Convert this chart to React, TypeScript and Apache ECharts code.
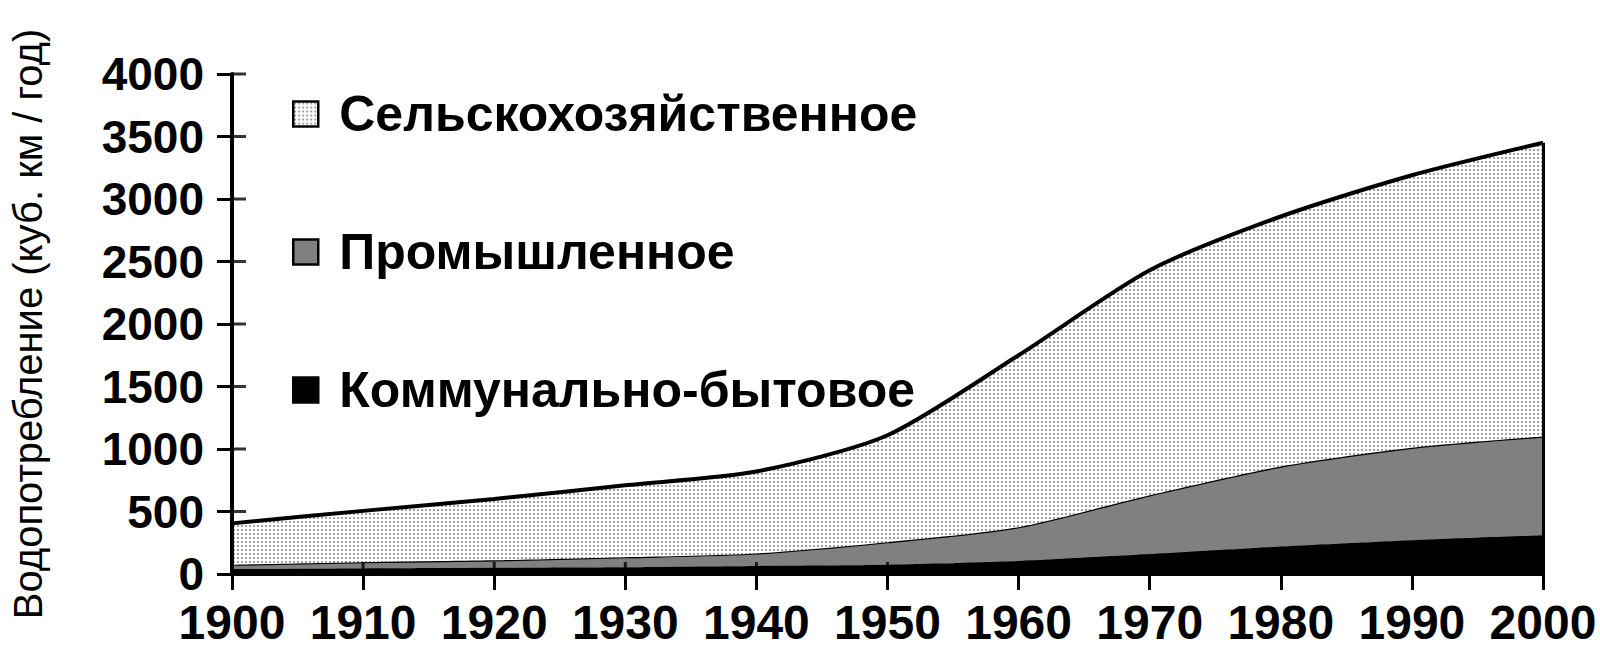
import React, { useEffect, useRef } from 'react';
import * as echarts from 'echarts';

const years = ['1900', '1910', '1920', '1930', '1940', '1950', '1960', '1970', '1980', '1990', '2000'];
const communal = [40, 45, 50, 55, 65, 75, 105, 160, 220, 270, 310];
const industrial = [35, 50, 60, 80, 100, 180, 270, 470, 640, 740, 790];
const agricultural = [330, 410, 490, 575, 655, 855, 1375, 1800, 2000, 2180, 2350];
const yTicks = [0, 500, 1000, 1500, 2000, 2500, 3000, 3500, 4000];

const seriesNames = ['Коммунально-бытовое', 'Промышленное', 'Сельскохозяйственное'];
const yTitle = 'Водопотребление (куб. км / год)';

const FONT = '"Liberation Sans", Arial, sans-serif';

const W = 1600;
const H = 666;

export default function App() {
  const ref = useRef<HTMLDivElement>(null);
  useEffect(() => {
    document.body.style.margin = '0';
    const chart = echarts.init(ref.current!, null, { renderer: 'svg' });
    const tile = document.createElement('canvas');
    tile.width = 4;
    tile.height = 4;
    const ctx = tile.getContext('2d')!;
    ctx.fillStyle = '#ffffff';
    ctx.fillRect(0, 0, 4, 4);
    ctx.fillStyle = '#a0a0a0';
    ctx.fillRect(1, 1, 2, 2);
    const dots: any = { image: tile, repeat: 'repeat', imageWidth: 4, imageHeight: 4 };

    const last = years.length - 1;
    const total = communal[last] + industrial[last] + agricultural[last];

    const tickStyle = { color: '#000', width: 3 };

    chart.setOption({
      animation: false,
      backgroundColor: '#fff',
      grid: {
        left: 232,
        right: 57,
        top: 74,
        bottom: 92,
        containLabel: false,
        outerBoundsMode: 'none',
      },
      legend: {
        data: [seriesNames[2], seriesNames[1], seriesNames[0]],
        orient: 'vertical',
        left: 287,
        top: 84,
        itemWidth: 25,
        itemHeight: 25,
        itemGap: 88,
        icon: 'rect',
        itemStyle: { borderColor: '#000', borderWidth: 2.5 },
        textStyle: {
          fontSize: 50,
          fontWeight: 'bold',
          color: '#000',
          fontFamily: FONT,
          lineHeight: 50,
          padding: [0, 0, 0, 16],
        },
      },
      xAxis: {
        type: 'category',
        data: years,
        boundaryGap: false,
        position: 'bottom',
        z: 10,
        axisLine: { show: true, lineStyle: { color: '#000', width: 4 } },
        axisTick: { show: true, length: 16, interval: 0, lineStyle: tickStyle },
        axisLabel: { color: '#000', fontSize: 48, fontWeight: 'bold', fontFamily: FONT, margin: 24, interval: 0 },
        splitLine: { show: false },
      },
      yAxis: {
        type: 'value',
        min: 0,
        max: 4000,
        interval: 500,
        position: 'left',
        z: 10,
        axisLine: { show: true, lineStyle: { color: '#000', width: 4 } },
        axisTick: { show: true, length: 15, lineStyle: tickStyle },
        axisLabel: {
          color: '#000',
          fontSize: 46,
          fontWeight: 'bold',
          fontFamily: FONT,
          margin: 28,
          formatter: (v: number) => String(v),
        },
        splitLine: { show: false },
        name: yTitle,
        nameLocation: 'middle',
        nameRotate: 90,
        nameGap: 184,
        nameTextStyle: { fontSize: 40, color: '#000', fontFamily: FONT },
      },
      series: [
        {
          name: seriesNames[0],
          type: 'line',
          stack: 'total',
          data: communal,
          smooth: 0.25,
          showSymbol: false,
          symbol: 'none',
          itemStyle: { color: '#000' },
          lineStyle: { color: '#000', width: 1 },
          areaStyle: { color: '#000', opacity: 1 },
          z: 2,
        },
        {
          name: seriesNames[1],
          type: 'line',
          stack: 'total',
          data: industrial,
          smooth: 0.25,
          showSymbol: false,
          symbol: 'none',
          itemStyle: { color: '#808080' },
          lineStyle: { color: '#000', width: 2.5 },
          areaStyle: { color: '#808080', opacity: 1 },
          z: 3,
        },
        {
          name: seriesNames[2],
          type: 'line',
          stack: 'total',
          data: agricultural,
          smooth: 0.25,
          showSymbol: false,
          symbol: 'none',
          itemStyle: { color: dots },
          lineStyle: { color: '#000', width: 4 },
          areaStyle: { color: dots, opacity: 1 },
          z: 4,
          markLine: {
            silent: true,
            symbol: ['none', 'none'],
            label: { show: false },
            lineStyle: { color: '#000', width: 3, type: 'solid' },
            data: [[{ coord: [years[last], 0] }, { coord: [years[last], total] }]],
          },
        },
        {
          name: 'xInnerTicks',
          type: 'scatter',
          data: years.map((y) => [y, 0]),
          symbol: 'rect',
          symbolSize: [3, 12],
          symbolOffset: [0, -6],
          itemStyle: { color: '#000' },
          silent: true,
          clip: false,
          z: 11,
        },
        {
          name: 'yInnerTicks',
          type: 'scatter',
          data: yTicks.map((v) => [years[0], v]),
          symbol: 'rect',
          symbolSize: [14, 3],
          symbolOffset: [7, 0],
          itemStyle: { color: '#000' },
          silent: true,
          clip: false,
          z: 11,
        },
      ],
    });
    return () => chart.dispose();
  }, []);
  return <div ref={ref} style={{ width: W, height: H }} />;
}
